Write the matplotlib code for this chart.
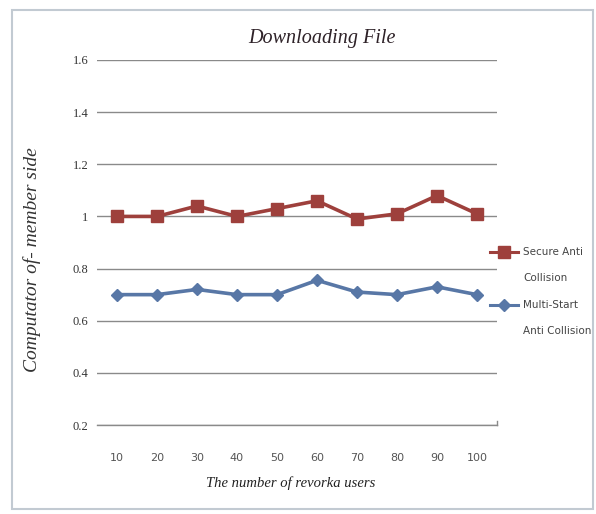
import matplotlib
matplotlib.use("Agg")
import matplotlib.pyplot as plt
from matplotlib.lines import Line2D
from matplotlib.patches import Rectangle

# Revoked users (x categories) and computation cost on the member side
users = ["10", "20", "30", "40", "50", "60", "70", "80", "90", "100"]
secure_anti_collision = [1.00, 1.00, 1.04, 1.00, 1.03, 1.06, 0.99, 1.01, 1.08, 1.01]
multi_start_anti_collision = [0.70, 0.70, 0.72, 0.70, 0.70, 0.755, 0.71, 0.70, 0.73, 0.70]
y_ticks = [0.2, 0.4, 0.6, 0.8, 1.0, 1.2, 1.4, 1.6]
y_tick_labels = ["0.2", "0.4", "0.6", "0.8", "1", "1.2", "1.4", "1.6"]

RED = "#9E403C"
BLUE = "#5877A6"
W, H = 596, 514

fig = plt.figure(figsize=(W / 100, H / 100), dpi=100)
fig.patch.set_facecolor("white")

ax = fig.add_axes([97 / W, 1 - 425 / H, 400 / W, 365 / H])
x = list(range(len(users)))

ax.plot(x, secure_anti_collision, color=RED, lw=2.6, marker="s", ms=8.5,
        markeredgecolor=RED, zorder=3)
ax.plot(x, multi_start_anti_collision, color=BLUE, lw=2.6, marker="D", ms=6,
        markeredgecolor=BLUE, zorder=3)

ax.set_xlim(-0.5, len(users) - 0.5)
ax.set_ylim(0.2, 1.6)
ax.set_yticks(y_ticks)
ax.set_yticklabels(y_tick_labels, family="Liberation Serif", fontsize=9, color="#333333")
ax.set_xticks(x)
ax.set_xticklabels(users, family="DejaVu Sans", fontsize=8, color="#555555")
ax.tick_params(axis="both", length=0)
ax.tick_params(axis="x", pad=20)
ax.tick_params(axis="y", pad=6)
ax.yaxis.grid(True, color="#8a8a8a", lw=1.0)
ax.set_axisbelow(True)
for s in ["top", "right", "left"]:
    ax.spines[s].set_visible(False)
ax.spines["bottom"].set_color("#8a8a8a")
ax.spines["bottom"].set_linewidth(1.0)
# small end tick on the category axis
ax.plot([len(users) - 0.5, len(users) - 0.5], [0.2, 0.215], color="#8a8a8a", lw=1,
        clip_on=False)

fig.text(322 / W, 1 - 38 / H, "Downloading File", ha="center", va="center",
         family="Liberation Serif", style="italic", fontsize=14.5, color="#2e2228")
fig.text(291 / W, 1 - 483 / H, "The number of revorka users", ha="center", va="center",
         family="Liberation Serif", style="italic", fontsize=10.5, color="#222222")
fig.text(32 / W, 1 - 260 / H, "Computator of- member side", ha="center", va="center",
         rotation=90, family="Liberation Serif", style="italic", fontsize=14,
         color="#333333")

# legend
legend_items = [(RED, "s", 8.5, 252, ["Secure Anti", "Collision"]),
                (BLUE, "D", 6, 305, ["Multi-Start", "Anti Collision"])]
for color, mk, ms, yy, lines in legend_items:
    fig.add_artist(Line2D([490 / W, 518 / W], [1 - yy / H, 1 - yy / H], color=color,
                          lw=2.2, transform=fig.transFigure))
    fig.add_artist(Line2D([504 / W], [1 - yy / H], color=color, marker=mk, ms=ms,
                          transform=fig.transFigure))
    for i, t in enumerate(lines):
        fig.text(523 / W, 1 - (yy + 26 * i) / H, t, ha="left", va="center",
                 family="DejaVu Sans", fontsize=7.5, color="#444444")

# chart frame
fig.add_artist(Rectangle((12 / W, 1 - 509 / H), 581 / W, 499 / H, fill=False,
                         edgecolor="#c2cad2", lw=1.5, transform=fig.transFigure))

fig.savefig("out.png", dpi=100)
